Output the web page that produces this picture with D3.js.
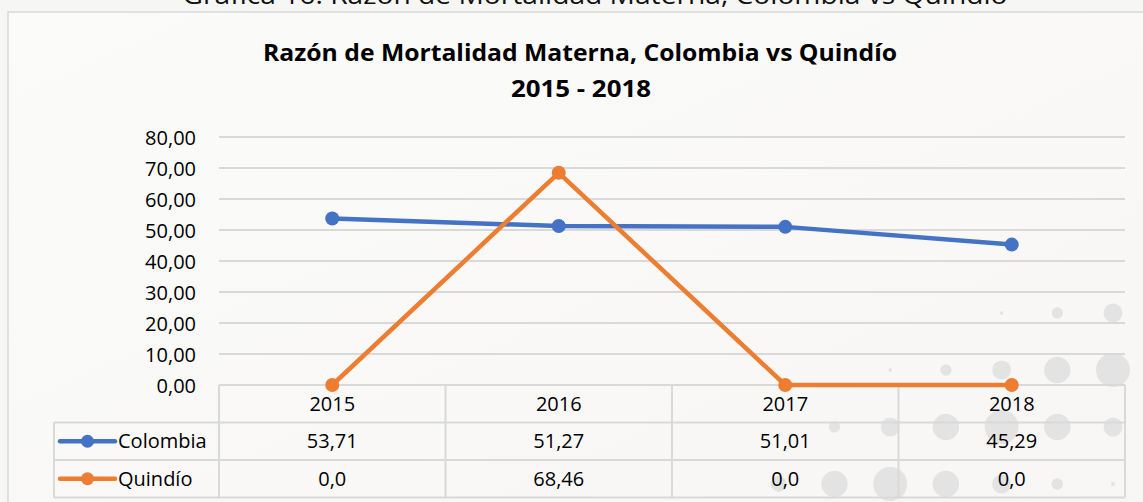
<!DOCTYPE html>
<html>
<head>
<meta charset="utf-8">
<script src="https://cdn.jsdelivr.net/npm/d3@7"></script>
<style>
  html, body { margin: 0; padding: 0; background: #f6f6f5; }
  svg { display: block; font-family: "Open Sans", "Noto Sans", sans-serif; }
</style>
</head>
<body>
<div id="chart"></div>
<script>
// datos
const years = ['2015', '2016', '2017', '2018'];
const colombia = [53.71, 51.27, 51.01, 45.29];
const quindio = [0, 68.46, 0, 0];
const yTicks = [0, 10, 20, 30, 40, 50, 60, 70, 80];
const seriesNames = ['Colombia', 'Quindío'];
const seriesColors = ['#4472C4', '#ED7D31'];

const caption = 'Gráfica 16. Razón de Mortalidad Materna, Colombia vs Quindío';
const title1 = 'Razón de Mortalidad Materna, Colombia vs Quindío';
const title2 = '2015 - 2018';

const W = 1143, H = 502;
const plot = { left: 219, right: 1125, top: 137, bottom: 385 };
const rowH = 37.5;
const legendLeft = 54;
const fontSize = 20;

const locale = d3.formatLocale({ decimal: ',', thousands: '.', grouping: [3], currency: ['$', ''] });
const fmt2 = locale.format('.2f');
const fmtCell = v => v === 0 ? '0,0' : fmt2(v);

const svg = d3.select('#chart').append('svg')
    .attr('width', W)
    .attr('height', H);

// fondo
const defs = svg.append('defs');
const grad = defs.append('linearGradient').attr('id', 'bg').attr('x1', 0).attr('y1', 0).attr('x2', 1).attr('y2', 1);
grad.append('stop').attr('offset', '0%').attr('stop-color', '#fbfbfa');
grad.append('stop').attr('offset', '100%').attr('stop-color', '#f7f6f5');

svg.append('rect').attr('width', W).attr('height', H).attr('fill', '#f6f6f5');
svg.append('rect')
    .attr('x', 8).attr('y', 12)
    .attr('width', W + 10).attr('height', H + 10)
    .attr('fill', 'url(#bg)')
    .attr('stroke', '#d9d9d9')
    .attr('stroke-width', 1.5);

// puntos decorativos (marca de agua)
const dots = [];
for (let j = 0; j < 4; j++) {
    for (let k = 0; k < 9; k++) {
        const cx = 1113 - 55.7 * k;
        const cy = 484 - 57 * j;
        const u = (cx - 1113) + 1.95 * (cy - 370);
        let r = 17 - 0.068 * Math.abs(u);
        if (cx < 800) r -= (800 - cx) * 0.07;
        if (r > 1.5) dots.push({ cx, cy, r });
    }
}
svg.append('g').selectAll('circle')
    .data(dots)
    .enter()
    .append('circle')
    .attr('cx', d => d.cx)
    .attr('cy', d => d.cy)
    .attr('r', d => d.r)
    .attr('fill', '#e3e3e3');

// textos del título (el rótulo superior está recortado en el original)
svg.append('text')
    .attr('x', 595).attr('y', 4)
    .attr('text-anchor', 'middle')
    .attr('font-size', 26)
    .attr('textLength', 825)
    .attr('lengthAdjust', 'spacingAndGlyphs')
    .attr('fill', '#111')
    .text(caption);

svg.append('text')
    .attr('x', 580).attr('y', 61)
    .attr('text-anchor', 'middle')
    .attr('font-size', 24)
    .attr('font-weight', 'bold')
    .attr('textLength', 634)
    .attr('lengthAdjust', 'spacingAndGlyphs')
    .attr('fill', '#000')
    .text(title1);

svg.append('text')
    .attr('x', 581).attr('y', 97)
    .attr('text-anchor', 'middle')
    .attr('font-size', 24)
    .attr('font-weight', 'bold')
    .attr('textLength', 140)
    .attr('lengthAdjust', 'spacingAndGlyphs')
    .attr('fill', '#000')
    .text(title2);

// escalas
const x = d3.scaleBand().domain(years).range([plot.left, plot.right]).padding(0);
const y = d3.scaleLinear().domain([0, 80]).range([plot.bottom, plot.top]);
const cx = d => x(d) + x.bandwidth() / 2;

// líneas de cuadrícula
svg.append('g')
    .selectAll('line')
    .data(yTicks.filter(t => t > 0))
    .enter()
    .append('line')
    .attr('x1', plot.left).attr('x2', plot.right)
    .attr('y1', d => y(d)).attr('y2', d => y(d))
    .attr('stroke', '#d9d9d9')
    .attr('stroke-width', 2);

// eje Y
const yAxis = svg.append('g')
    .attr('transform', `translate(${plot.left - 23},0)`)
    .call(d3.axisLeft(y).tickValues(yTicks).tickFormat(fmt2).tickSize(0).tickPadding(0));
yAxis.select('.domain').remove();
yAxis.selectAll('text')
    .attr('font-family', '"Open Sans", sans-serif')
    .attr('font-size', fontSize)
    .attr('fill', '#000')
    .attr('dy', '0.35em');

// tabla de datos
const tableTop = plot.bottom;
const tableBottom = tableTop + rowH * 3;
const grid = svg.append('g').attr('stroke', '#d9d9d9').attr('stroke-width', 2).attr('fill', 'none');

grid.append('line')
    .attr('x1', plot.left).attr('x2', plot.right)
    .attr('y1', tableTop).attr('y2', tableTop);
[1, 2, 3].forEach(i => {
    grid.append('line')
        .attr('x1', legendLeft).attr('x2', plot.right)
        .attr('y1', tableTop + rowH * i).attr('y2', tableTop + rowH * i);
});
grid.append('line')
    .attr('x1', legendLeft).attr('x2', legendLeft)
    .attr('y1', tableTop + rowH).attr('y2', tableBottom);
years.concat(['end']).forEach((yr, i) => {
    const xx = i < years.length ? x(yr) : plot.right;
    grid.append('line')
        .attr('x1', xx).attr('x2', xx)
        .attr('y1', tableTop).attr('y2', tableBottom);
});

// encabezado de años
svg.append('g')
    .selectAll('text')
    .data(years)
    .enter()
    .append('text')
    .attr('x', d => cx(d))
    .attr('y', tableTop + rowH / 2)
    .attr('dy', '0.35em')
    .attr('text-anchor', 'middle')
    .attr('font-size', fontSize)
    .text(d => d);

// filas de series
[colombia, quindio].forEach((vals, s) => {
    const rowY = tableTop + rowH * (s + 1.5);
    const g = svg.append('g');

    g.selectAll('text')
        .data(vals)
        .enter()
        .append('text')
        .attr('x', (d, i) => cx(years[i]))
        .attr('y', rowY)
        .attr('dy', '0.35em')
        .attr('text-anchor', 'middle')
        .attr('font-size', fontSize)
        .text(d => fmtCell(d));

    // clave de leyenda
    g.append('line')
        .attr('x1', legendLeft + 6).attr('x2', legendLeft + 61)
        .attr('y1', rowY).attr('y2', rowY)
        .attr('stroke', seriesColors[s])
        .attr('stroke-width', 4.5)
        .attr('stroke-linecap', 'round');
    g.append('circle')
        .attr('cx', legendLeft + 33.5).attr('cy', rowY)
        .attr('r', 6.5)
        .attr('fill', seriesColors[s]);
    g.append('text')
        .attr('x', legendLeft + 64)
        .attr('y', rowY)
        .attr('dy', '0.35em')
        .attr('font-size', fontSize)
        .text(seriesNames[s]);
});

// líneas de series
const line = d3.line()
    .x((d, i) => cx(years[i]))
    .y(d => y(d));

[colombia, quindio].forEach((vals, s) => {
    svg.append('path')
        .datum(vals)
        .attr('d', line)
        .attr('fill', 'none')
        .attr('stroke', seriesColors[s])
        .attr('stroke-width', 4.5)
        .attr('stroke-linejoin', 'round')
        .attr('stroke-linecap', 'round');

    svg.append('g')
        .selectAll('circle')
        .data(vals)
        .enter()
        .append('circle')
        .attr('cx', (d, i) => cx(years[i]))
        .attr('cy', d => y(d))
        .attr('r', 7)
        .attr('fill', seriesColors[s]);
});
</script>
</body>
</html>
